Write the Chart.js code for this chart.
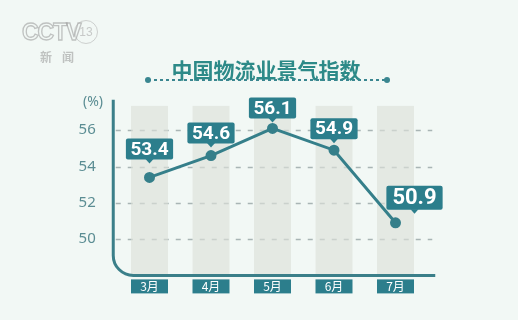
<!DOCTYPE html>
<html>
<head>
<meta charset="utf-8">
<script src="https://cdn.jsdelivr.net/npm/chart.js@4/dist/chart.umd.min.js"></script>
<style>
html, body { margin: 0; padding: 0; background: #f2f8f5; }
#wrap { position: relative; width: 518px; height: 320px; overflow: hidden; background: #f2f8f5; }
#chart { position: absolute; left: 0; top: 0; }
.title { position: absolute; left: 7px; width: 518px; top: 54px; line-height: 24px; text-align: center;
  font: bold 21px "Noto Sans CJK SC"; color: #2d8a88; }
.dots { position: absolute; left: 148px; top: 79px; width: 238px; height: 2px;
  background: repeating-linear-gradient(90deg, #3a8690 0 3px, transparent 3px 6px); }
.dot { position: absolute; top: 77px; width: 6px; height: 6px; border-radius: 50%; background: #3a8690; }
.logo { position: absolute; left: 22px; top: 19px; font: bold 23px "Liberation Sans"; color: transparent;
  -webkit-text-stroke: 1.3px rgba(150,150,150,0.55); letter-spacing: -1px; }
.logo13 { position: absolute; left: 74px; top: 20px; width: 22px; height: 22px; border-radius: 50%;
  border: 1.5px solid rgba(170,170,170,0.5); font: 12px "Liberation Sans"; color: rgba(170,170,170,0.6);
  text-align: center; line-height: 22px; }
.logo2 { position: absolute; left: 40px; top: 48px; font: bold 12px "Noto Sans CJK SC"; color: rgba(140,140,140,0.5);
  letter-spacing: 10px; }
</style>
</head>
<body>
<div id="wrap">
  <canvas id="chart" width="518" height="320"></canvas>
  <div class="logo">CCTV</div>
  <div class="logo13">13</div>
  <div class="logo2">新闻</div>
  <div class="title">中国物流业景气指数</div>
  <div class="dots"></div>
  <div class="dot" style="left:145px"></div>
  <div class="dot" style="left:384px"></div>
</div>
<script>
// 數據
const months = ['3月', '4月', '5月', '6月', '7月'];
const indexValues = [53.4, 54.6, 56.1, 54.9, 50.9];
const yTickValues = [50, 52, 54, 56];
const yMin = 48;
const yMax = 57.35;
const columnTops = [57.35, 57.35, 57.35, 57.35, 57.35];

const teal = '#2c7e8c';
const lineTeal = '#357f8a';

// 數據標籤位置微調（與數據分開）
const labelGap = [18, 12, 10, 11, 13];
const labelDx = [0, 0, 0, 0, 19];

// 自訂軸線、網格、月份標籤、數值標籤
const decorPlugin = {
  id: 'decor',
  beforeDatasetsDraw(chart) {
    const ctx = chart.ctx;
    const area = chart.chartArea;
    const ys = chart.scales.y;
    ctx.save();
    ctx.strokeStyle = '#a9b5b5';
    ctx.lineWidth = 1.5;
    ctx.setLineDash([5, 7]);
    yTickValues.forEach(v => {
      const y = Math.round(ys.getPixelForValue(v)) + 0.5;
      ctx.beginPath();
      ctx.moveTo(area.left - 3, y);
      ctx.lineTo(area.right + 6, y);
      ctx.stroke();
    });
    ctx.restore();
  },
  afterDatasetsDraw(chart) {
    const ctx = chart.ctx;
    const area = chart.chartArea;
    const xs = chart.scales.x;

    // 圓角軸線
    const ax = area.left - 5.5;
    const by = area.bottom;
    const r = 20;
    ctx.save();
    ctx.strokeStyle = '#3b7f89';
    ctx.lineWidth = 3;
    ctx.beginPath();
    ctx.moveTo(ax, area.top - 6);
    ctx.lineTo(ax, by - r);
    ctx.arcTo(ax, by, ax + r, by, r);
    ctx.lineTo(area.right + 9, by);
    ctx.stroke();

    // (%)
    ctx.fillStyle = '#5b8d93';
    ctx.font = '14px "Noto Sans"';
    ctx.textAlign = 'center';
    ctx.textBaseline = 'middle';
    ctx.fillText('(%)', 93, 102);

    // 月份標籤
    months.forEach((m, i) => {
      const cx = xs.getPixelForValue(i);
      ctx.fillStyle = teal;
      ctx.fillRect(cx - 18.5, by + 4, 37, 14);
      ctx.fillStyle = '#ffffff';
      ctx.font = '12px "Noto Sans CJK SC"';
      ctx.fillText(m, cx, by + 11.5);
    });

    // 數值標籤
    const meta = chart.getDatasetMeta(1);
    meta.data.forEach((pt, i) => {
      const big = i === indexValues.length - 1;
      const txt = indexValues[i].toFixed(1);
      ctx.font = 'bold ' + (big ? 22 : 19) + 'px "Liberation Sans Narrow", "Roboto", sans-serif';
      const w = ctx.measureText(txt).width + (big ? 12 : 9);
      const h = big ? 24 : 21;
      const cx = pt.x + labelDx[i];
      const bottom = pt.y - labelGap[i];
      ctx.fillStyle = teal;
      ctx.beginPath();
      ctx.roundRect(cx - w / 2, bottom - h, w, h, 2);
      ctx.fill();
      ctx.beginPath();
      ctx.moveTo(cx - 4, bottom - 0.5);
      ctx.lineTo(cx + 4, bottom - 0.5);
      ctx.lineTo(cx, bottom + 4);
      ctx.closePath();
      ctx.fill();
      ctx.fillStyle = '#ffffff';
      ctx.fillText(txt, cx, bottom - h / 2 + 1);
    });
    ctx.restore();
  }
};

new Chart(document.getElementById('chart'), {
  data: {
    labels: months,
    datasets: [
      {
        type: 'bar',
        data: columnTops,
        backgroundColor: 'rgba(220,224,217,0.65)',
        barPercentage: 0.6,
        categoryPercentage: 1,
        order: 2
      },
      {
        type: 'line',
        data: indexValues,
        borderColor: lineTeal,
        borderWidth: 3,
        pointRadius: 4,
        pointBackgroundColor: lineTeal,
        pointBorderColor: lineTeal,
        tension: 0,
        clip: false,
        order: 1
      }
    ]
  },
  options: {
    responsive: false,
    devicePixelRatio: 1,
    animation: false,
    layout: { padding: { left: 0, right: 91.75, top: 105.7, bottom: 44.6 } },
    plugins: { legend: { display: false }, tooltip: { enabled: false } },
    scales: {
      x: { display: false, offset: true },
      y: {
        min: yMin,
        max: yMax,
        afterFit: s => { s.width = 118.75; },
        afterBuildTicks: s => { s.ticks = yTickValues.map(v => ({ value: v })); },
        ticks: { padding: 15, color: '#5b8d93', font: { family: 'Noto Sans', size: 15 } },
        grid: { display: false },
        border: { display: false }
      }
    }
  },
  plugins: [decorPlugin]
});
</script>
</body>
</html>
